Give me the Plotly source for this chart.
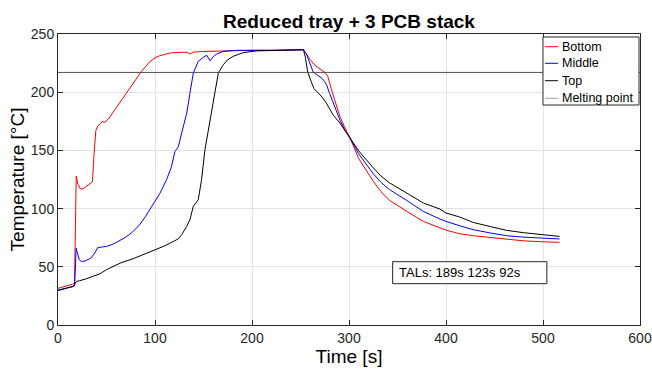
import plotly.graph_objects as go

# ---------------- data ----------------
bottom_t = [0, 5, 10, 15, 17, 18, 18.8, 20.5, 23, 26, 30, 34, 35.5, 37, 39, 41, 44, 45.5, 48, 52,
            58, 64, 70, 76, 82, 86, 90, 95, 100, 105, 110, 115.5, 125.8, 133, 136, 140, 150, 170,
            200, 230, 253, 256, 260, 265, 270, 275, 278, 280, 282, 285, 290.7, 296, 301, 310, 318,
            325, 333, 342, 359.5, 376.6, 400, 414, 428, 446, 462.6, 480, 497, 517]
bottom_T = [31.5, 32.5, 34, 35, 36, 90, 128, 121, 117, 117, 119.5, 121.5, 123, 145, 167, 171, 173, 175, 174, 177,
            184, 192, 199, 206, 213, 218, 222, 226.5, 229.5, 231.4, 232.5, 233.7, 234.3, 234.3, 232.8, 234.5, 235, 235.5,
            236, 236, 236.5, 233, 228, 223, 220, 217, 214, 209, 202, 194, 179, 169, 160.7, 143, 132,
            123.5, 114.5, 107, 97.6, 89, 81.5, 78.4, 76.7, 75, 73.3, 72.3, 71.6, 71]

middle_t = [0, 5, 10, 15, 17, 18, 18.7, 20, 22, 24, 28, 34, 38, 41, 45, 50, 57, 64, 70, 77, 84, 90,
            95, 100, 105, 112, 117, 120.5, 122, 124, 127.5, 132.7, 136, 139.5, 144.6, 151.5, 153.6,
            156.7, 160, 163, 170, 185, 220, 253, 256, 260, 263, 266.7, 272, 275, 277, 280, 285, 290.7,
            296, 301, 310, 318, 325, 333, 342, 359.5, 376.6, 393.8, 400, 414, 428, 446, 462.6, 480, 497, 517]
middle_T = [29.5, 30.5, 31.5, 32.5, 33.5, 50, 66, 62, 56, 54.5, 55, 57.5, 62, 66.5, 67, 67.5, 69.5, 72.4, 75.5, 80, 86, 93,
            100, 106, 113, 125, 136, 149, 151, 153, 165, 182, 199, 216.5, 226.5, 231, 231.5,
            227, 230.5, 232.5, 235, 236, 236, 236.5, 233, 225, 217.5, 215, 212, 209, 206, 199, 188, 176,
            167, 160.7, 147, 137.5, 130, 122.5, 116.2, 107, 97.6, 91, 89, 85.3, 81.9, 79, 76.7, 75.5, 74.7, 73.9]

top_t = [0, 5, 10, 15, 17, 19, 22, 25, 29.5, 35, 43.3, 50, 57, 65, 77.6, 88, 95, 110, 119, 124, 127.5,
         132.7, 136, 139.5, 144.6, 148, 151.5, 156.7, 161.9, 165.3, 170.4, 175, 180.7, 191, 204.8, 220,
         253, 255, 257.5, 261.5, 264, 266.7, 272, 276, 278.7, 284, 290.7, 296, 301, 310, 318, 325, 333, 342,
         359.5, 376.6, 393.8, 400, 414, 428, 446, 462.6, 480, 497, 517]
top_T = [30, 31, 32, 33, 34.5, 37.5, 38, 38.5, 39.8, 41.5, 44, 47.5, 50.4, 53.5, 57, 60.5, 63, 68, 71.8, 74, 77.6,
         84.7, 90.5, 102, 107.6, 124.8, 150.6, 176, 199, 216.5, 223.6, 228, 230.8, 234, 235.5, 236,
         236.5, 230, 217, 208, 203, 200.7, 196, 191.5, 187.8, 180, 173.5, 166.5, 160.7, 149.6, 141.6, 135, 128, 122,
         113.4, 104.8, 99.6, 96.2, 92.8, 88.1, 84.5, 81.3, 79.3, 77.6, 76.1]

melt_t = [0, 600]
melt_T = [217, 217]

x_ticks = [0, 100, 200, 300, 400, 500, 600]
y_ticks = [0, 50, 100, 150, 200, 250]

series_names = ["Bottom", "Middle", "Top", "Melting point"]
series_colors = ["#ff0000", "#0000ff", "#000000", "#4d4d4d"]
legend_sample_colors = ["#ff0000", "#0000ff", "#000000", "#a0a0a0"]

tal_text = "TALs: 189s 123s 92s"

FONT = "Liberation Sans, Arial, Helvetica, sans-serif"
AX = "#262626"

fig = go.Figure()
for (tx, ty), name, col in zip([(bottom_t, bottom_T), (middle_t, middle_T), (top_t, top_T), (melt_t, melt_T)],
                               series_names, series_colors):
    fig.add_trace(go.Scatter(x=tx, y=ty, mode="lines", name=name,
                             line=dict(color=col, width=1), showlegend=False))

# TAL text box
fig.add_shape(type="rect", xref="x", yref="y", x0=345, x1=504, y0=35.5, y1=54.4,
              line=dict(color="#262626", width=1), fillcolor="white", layer="above")
fig.add_annotation(x=349.5, y=45, xref="x", yref="y", text=tal_text, showarrow=False,
                   xanchor="left", yanchor="middle",
                   font=dict(family=FONT, size=13, color="#000000"))

# MATLAB-style legend box (drawn in plot-area coordinates)
fig.add_shape(type="rect", xref="paper", yref="paper", x0=0.8333, x1=0.9983, y0=0.756, y1=0.9897,
              line=dict(color="#262626", width=1), fillcolor="white", layer="above")
row_y = [0.9564, 0.8993, 0.8395, 0.779]
for name, col, yy in zip(series_names, legend_sample_colors, row_y):
    fig.add_shape(type="line", xref="paper", yref="paper", x0=0.8368, x1=0.8591, y0=yy, y1=yy,
                  line=dict(color=col, width=1), layer="above")
    fig.add_annotation(x=0.8625, y=yy, xref="paper", yref="paper", text=name, showarrow=False,
                       xanchor="left", yanchor="middle",
                       font=dict(family=FONT, size=12.5, color="#000000"))

fig.update_layout(
    width=652, height=374,
    margin=dict(l=58, r=12, t=34, b=49, autoexpand=False),
    paper_bgcolor="white", plot_bgcolor="white",
    font=dict(family=FONT, color=AX, size=14),
    title=dict(text="<b>Reduced tray + 3 PCB stack</b>", x=349 / 652, xanchor="center",
               y=1 - 21 / 374, yanchor="middle", font=dict(family=FONT, size=19, color="#000000")),
    showlegend=False,
)
fig.update_xaxes(range=[0, 600], tickvals=x_ticks, ticks="inside", ticklen=5, tickcolor=AX,
                 showline=True, linecolor=AX, linewidth=1, mirror="ticks", automargin=False,
                 showgrid=True, gridcolor="#e3e3e3", gridwidth=1, zeroline=False,
                 tickfont=dict(family=FONT, size=14, color=AX),
                 title=dict(text="Time [s]", font=dict(family=FONT, size=19, color="#000000"), standoff=4))
fig.update_yaxes(range=[0, 250], tickvals=y_ticks, ticks="inside", ticklen=5, tickcolor=AX,
                 showline=True, linecolor=AX, linewidth=1, mirror="ticks", automargin=False,
                 showgrid=True, gridcolor="#e3e3e3", gridwidth=1, zeroline=False,
                 tickfont=dict(family=FONT, size=14, color=AX),
                 title=dict(text="Temperature [°C]", font=dict(family=FONT, size=19, color="#000000"), standoff=1))

fig.write_html("out.html")
